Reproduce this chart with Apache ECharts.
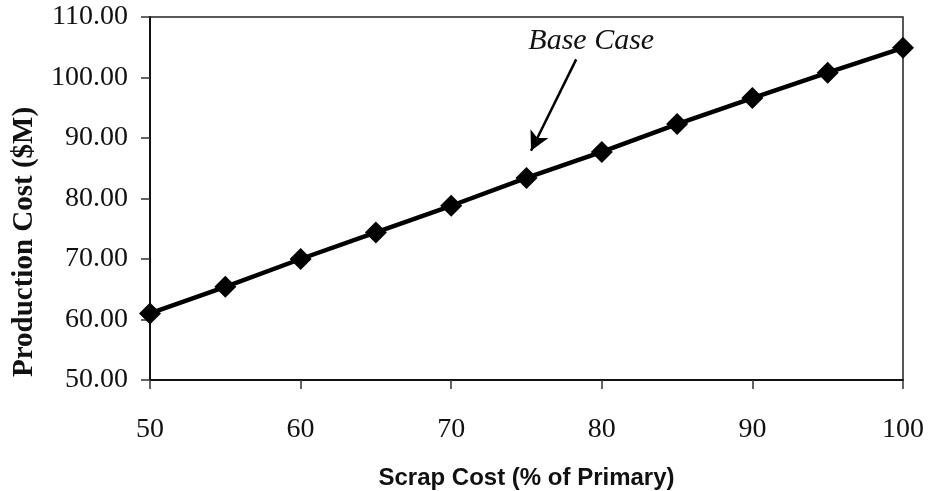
<!DOCTYPE html>
<html>
<head>
<meta charset="utf-8">
<script src="https://cdn.jsdelivr.net/npm/echarts@6/dist/echarts.min.js"></script>
<style>
  html, body { margin: 0; padding: 0; background: #fff; }
  #chart { width: 930px; height: 491px; }
</style>
</head>
<body>
<div id="chart"></div>
<script>
// Scrap cost as a share of primary cost (%)
const scrapCost = [50, 55, 60, 65, 70, 75, 80, 85, 90, 95, 100];
// Production cost in $M at each scrap cost level
const productionCost = [61.0, 65.4, 70.0, 74.4, 78.8, 83.4, 87.7, 92.3, 96.6, 100.8, 104.9];
// Axis ranges and tick steps
const xTicks = [50, 100, 10];
const yTicks = [50, 110, 10];
// Annotation: label position and arrow from label to the base-case point
const baseCaseLabel = ['Base Case', 79.3, 106.0];
const baseCaseArrow = [[78.3, 103.0], [75.3, 87.9]];
const yTitle = 'Production Cost ($M)';
const xTitle = 'Scrap Cost (% of Primary)';

const serif = '"Liberation Serif", "Times New Roman", serif';
const sans = '"Liberation Sans", Arial, sans-serif';

const chart = echarts.init(document.getElementById('chart'));
chart.setOption({
  animation: false,
  backgroundColor: '#fff',
  grid: {
    left: 150, right: 27, top: 17, bottom: 111,
    outerBoundsMode: 'none',
    containLabel: false,
    show: true, borderColor: '#222', borderWidth: 1.5
  },
  graphic: [{
    // Rotated title placed left of the y axis, reading bottom to top
    type: 'text',
    rotation: Math.PI / 2,
    originX: 0, originY: 0,
    position: [10, 377],
    style: {
      text: yTitle,
      font: 'bold 29px ' + serif,
      fill: '#111'
    }
  }],
  xAxis: {
    type: 'value',
    min: xTicks[0], max: xTicks[1], interval: xTicks[2],
    name: xTitle,
    nameLocation: 'middle',
    nameGap: 86,
    nameTextStyle: { fontFamily: sans, fontWeight: 'bold', fontSize: 24, color: '#111' },
    axisLine: { show: true, lineStyle: { color: '#111', width: 2 } },
    axisTick: { show: true, inside: false, length: 9, lineStyle: { color: '#333', width: 1.5 } },
    axisLabel: { margin: 36, fontFamily: serif, fontSize: 28, color: '#111' },
    splitLine: { show: false }
  },
  yAxis: {
    type: 'value',
    min: yTicks[0], max: yTicks[1], interval: yTicks[2],
    axisLine: { show: true, lineStyle: { color: '#111', width: 2 } },
    axisTick: { show: true, inside: false, length: 9, lineStyle: { color: '#333', width: 1.5 } },
    axisLabel: {
      margin: 22, fontFamily: serif, fontSize: 28, color: '#111',
      formatter: v => v.toFixed(2)
    },
    splitLine: { show: false }
  },
  series: [{
    type: 'line',
    data: scrapCost.map((x, i) => [x, productionCost[i]]),
    symbol: 'diamond',
    symbolSize: 22,
    showAllSymbol: true,
    lineStyle: { color: '#000', width: 4.5 },
    itemStyle: { color: '#000' },
    markPoint: {
      symbol: 'circle', symbolSize: 0,
      label: {
        show: true, position: 'inside',
        fontFamily: serif, fontStyle: 'italic', fontSize: 30, color: '#111',
        formatter: baseCaseLabel[0]
      },
      data: [{ coord: [baseCaseLabel[1], baseCaseLabel[2]] }]
    },
    markLine: {
      silent: true,
      symbol: ['none', 'arrow'],
      symbolSize: [15, 19],
      label: { show: false },
      lineStyle: { color: '#000', width: 2.5, type: 'solid' },
      data: [[{ coord: baseCaseArrow[0] }, { coord: baseCaseArrow[1] }]]
    }
  }]
});
</script>
</body>
</html>
